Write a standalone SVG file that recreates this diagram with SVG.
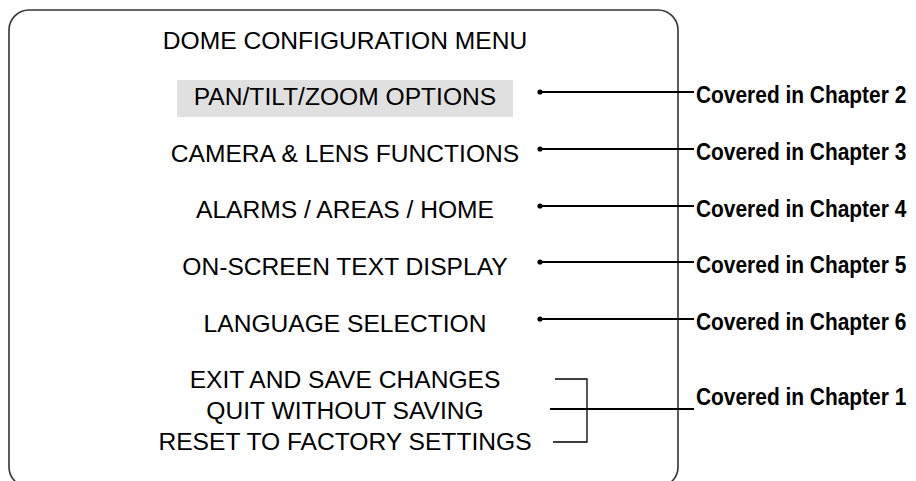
<svg xmlns="http://www.w3.org/2000/svg" width="916" height="481" viewBox="0 0 916 481">
<style>
.menu{font-family:"Liberation Sans",Arial,sans-serif;font-size:24.6px;fill:#000;text-anchor:middle}
.lbl{font-family:"Liberation Sans",Arial,sans-serif;font-size:23.5px;font-weight:bold;fill:#000}
.conn{stroke:#000;stroke-width:2;fill:none}
.brk{stroke:#000;stroke-width:1.3;fill:none}
.dot{fill:#000}
</style>
<rect width="916" height="481" fill="#fff"/>
<g id="menu-frame">
<rect x="9" y="10" width="669" height="477" rx="20" ry="20" fill="none" stroke="#333" stroke-width="1.6"/>
</g>
<g id="title"><text class="menu" x="345" y="49">DOME CONFIGURATION MENU</text></g>
<g id="item-ptz">
<rect x="177" y="80" width="336" height="37" fill="#e0e0e0"/>
<text class="menu" x="345" y="105">PAN/TILT/ZOOM OPTIONS</text>
</g>
<g id="item-camera"><text class="menu" x="345" y="162">CAMERA &amp; LENS FUNCTIONS</text></g>
<g id="item-alarms"><text class="menu" x="345" y="218">ALARMS / AREAS / HOME</text></g>
<g id="item-onscreen"><text class="menu" x="345" y="275">ON-SCREEN TEXT DISPLAY</text></g>
<g id="item-language"><text class="menu" x="345" y="332">LANGUAGE SELECTION</text></g>
<g id="item-exit-group">
<text class="menu" x="345" y="388">EXIT AND SAVE CHANGES</text>
<text class="menu" x="345" y="419">QUIT WITHOUT SAVING</text>
<text class="menu" x="345" y="450">RESET TO FACTORY SETTINGS</text>
</g>
<g id="label-ch2" transform="translate(696,103) scale(0.89,1)"><text class="lbl" x="0" y="0">Covered in Chapter 2</text></g>
<g id="label-ch3" transform="translate(696,160) scale(0.89,1)"><text class="lbl" x="0" y="0">Covered in Chapter 3</text></g>
<g id="label-ch4" transform="translate(696,217) scale(0.89,1)"><text class="lbl" x="0" y="0">Covered in Chapter 4</text></g>
<g id="label-ch5" transform="translate(696,273) scale(0.89,1)"><text class="lbl" x="0" y="0">Covered in Chapter 5</text></g>
<g id="label-ch6" transform="translate(696,330) scale(0.89,1)"><text class="lbl" x="0" y="0">Covered in Chapter 6</text></g>
<g id="label-ch1" transform="translate(696,405) scale(0.89,1)"><text class="lbl" x="0" y="0">Covered in Chapter 1</text></g>
<g id="connectors">
<line class="conn" x1="540" y1="92" x2="694" y2="92"/><circle class="dot" cx="540" cy="92" r="2.6"/>
<line class="conn" x1="540" y1="149" x2="694" y2="149"/><circle class="dot" cx="540" cy="149" r="2.6"/>
<line class="conn" x1="540" y1="206" x2="694" y2="206"/><circle class="dot" cx="540" cy="206" r="2.6"/>
<line class="conn" x1="540" y1="262" x2="694" y2="262"/><circle class="dot" cx="540" cy="262" r="2.6"/>
<line class="conn" x1="540" y1="319" x2="694" y2="319"/><circle class="dot" cx="540" cy="319" r="2.6"/>
<polyline class="brk" points="555,379 587,379 587,442 553,442"/>
<line class="conn" x1="550" y1="409" x2="694" y2="409"/>
</g>
</svg>
